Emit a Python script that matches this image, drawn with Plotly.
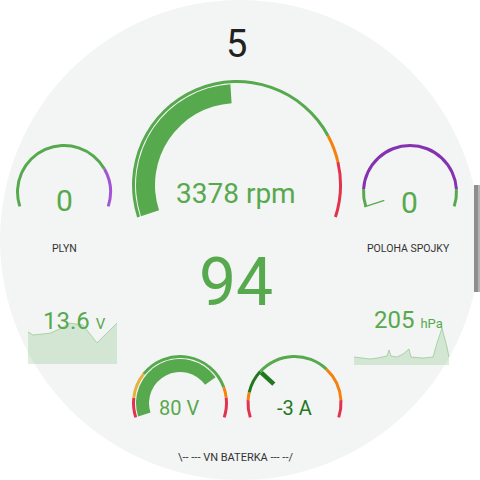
"""
Car dashboard panel: rpm gauge, gear, speed, small gauges and sparklines.
"""

import plotly.graph_objects as go

W = H = 480
SWEEP = 216  # degrees covered by every gauge arc

GREEN = "#57a94e"
DARK_GREEN = "#23781f"
ORANGE = "#f5820f"
RED = "#e2334d"
YELLOW = "#e6b03a"
PURPLE_LIGHT = "#a253d6"
PURPLE = "#8532b2"

# ---- data ----
gear = 5
speed = 94

rpm_value = 3378
rpm_range = [0, 7000]
rpm_limits = [0, 5500, 6000, 7000]
rpm_colors = [GREEN, ORANGE, RED]

throttle_value = 0
throttle_range = [0, 100]
throttle_limits = [0, 78, 100]
throttle_colors = [GREEN, PURPLE_LIGHT]

clutch_value = 0
clutch_range = [0, 100]
clutch_limits = [0, 10, 90, 100]
clutch_colors = [GREEN, PURPLE, GREEN]

hv_volt_value = 80
hv_volt_range = [50, 90]
hv_volt_limits = [50, 54.5, 60.5, 83, 85.5, 90]
hv_volt_colors = [RED, YELLOW, GREEN, ORANGE, RED]

hv_amp_value = -3
hv_amp_range = [-10, 15]
hv_amp_limits = [-10, -7.5, -6.4, -3, 7.5, 12.5, 15]
hv_amp_colors = [RED, ORANGE, DARK_GREEN, GREEN, ORANGE, RED]

lv_hours = [0, 1.35, 5.9, 8.6, 11.3, 14.8, 18.6, 24]
lv_volts = [13.63, 13.56, 13.60, 13.70, 13.83, 13.79, 13.38, 13.83]
lv_now = 13.6

brake_hours = [0, 2.25, 4.0, 5.75, 7.25, 8.25, 8.75, 9.25, 10.75, 12.25,
               13.75, 14.25, 17.25, 19.75, 20.75, 22.0, 23.25, 23.75]
brake_hpa = [198, 197, 196, 197, 198, 199, 205, 199, 198, 201,
             206, 198, 197, 198, 212, 227, 208, 198]
brake_now = 205


def to_deg(v, rng):
    lo, hi = rng
    return -SWEEP / 2 + (v - lo) / (hi - lo) * SWEEP


def arc_trace(start, stop, rng, r_in, r_out, color, subplot):
    a0, a1 = to_deg(start, rng), to_deg(stop, rng)
    return go.Barpolar(
        theta=[(a0 + a1) / 2], width=[a1 - a0], base=[r_in], r=[r_out - r_in],
        marker=dict(color=color, line=dict(width=0)),
        subplot=subplot, hoverinfo="skip", showlegend=False,
    )


def band_traces(limits, colors, rng, r_in, r_out, subplot):
    return [arc_trace(limits[i], limits[i + 1], rng, r_in, r_out, colors[i], subplot)
            for i in range(len(colors))]


def needle_trace(value, rng, r_in, r_out, color, width, subplot):
    a = to_deg(value, rng)
    return go.Scatterpolar(
        theta=[a, a], r=[r_in, r_out], mode="lines",
        line=dict(color=color, width=width),
        subplot=subplot, hoverinfo="skip", showlegend=False,
    )


def polar_box(cx, cy, R):
    return dict(
        domain=dict(x=[(cx - R) / W, (cx + R) / W], y=[1 - (cy + R) / H, 1 - (cy - R) / H]),
        bgcolor="rgba(0,0,0,0)", hole=0, barmode="overlay",
        radialaxis=dict(visible=False, range=[0, R]),
        angularaxis=dict(visible=False, rotation=90, direction="clockwise"),
    )


fig = go.Figure()

# big rpm gauge
fig.add_traces(band_traces(rpm_limits, rpm_colors, rpm_range, 102, 105, "polar"))
fig.add_trace(arc_trace(rpm_range[0], rpm_value, rpm_range, 82, 101, GREEN, "polar"))

# throttle gauge
fig.add_traces(band_traces(throttle_limits, throttle_colors, throttle_range, 45, 48, "polar2"))

# clutch gauge
fig.add_traces(band_traces(clutch_limits, clutch_colors, clutch_range, 45, 48, "polar3"))
fig.add_trace(needle_trace(clutch_value, clutch_range, 27, 48, GREEN, 1.2, "polar3"))

# HV voltage gauge
fig.add_traces(band_traces(hv_volt_limits, hv_volt_colors, hv_volt_range, 45, 48, "polar4"))
fig.add_trace(arc_trace(hv_volt_range[0], hv_volt_value, hv_volt_range, 31, 44, GREEN, "polar4"))

# HV current gauge
fig.add_traces(band_traces(hv_amp_limits, hv_amp_colors, hv_amp_range, 45, 48, "polar5"))
fig.add_trace(needle_trace(hv_amp_value, hv_amp_range, 28, 45, DARK_GREEN, 4.5, "polar5"))

# sparklines
fig.add_trace(go.Scatter(
    x=lv_hours, y=lv_volts, mode="lines", fill="tozeroy",
    line=dict(color="rgba(87,169,78,0.4)", width=1),
    fillcolor="rgba(87,169,78,0.2)", hoverinfo="skip", showlegend=False,
    xaxis="x", yaxis="y",
))
fig.add_trace(go.Scatter(
    x=brake_hours, y=brake_hpa, mode="lines", fill="tozeroy",
    line=dict(color="rgba(87,169,78,0.4)", width=1),
    fillcolor="rgba(87,169,78,0.2)", hoverinfo="skip", showlegend=False,
    xaxis="x2", yaxis="y2",
))


def txt(x, y, text, size, color, **kw):
    return dict(x=x / W, y=1 - y / H, xref="paper", yref="paper", text=text,
                showarrow=False, font=dict(family="Roboto", size=size, color=color),
                xanchor=kw.get("xanchor", "center"), yanchor="middle")


annotations = [
    txt(236, 44, str(gear), 38, "#212121"),
    txt(236, 193, f"{rpm_value} rpm", 28, GREEN),
    txt(236, 282, str(speed), 66, GREEN),
    txt(64, 201, str(throttle_value), 30, GREEN),
    txt(64, 248, "PLYN", 10.5, "#333333"),
    txt(409, 202, str(clutch_value), 30, GREEN),
    txt(408, 248, "POLOHA SPOJKY", 10.5, "#333333"),
    txt(41, 321, f"{lv_now}" + " <span style='font-size:15px'>V</span>", 24, GREEN, xanchor="left"),
    txt(372, 320, f"{brake_now}" + " <span style='font-size:13px'>hPa</span>", 24, GREEN, xanchor="left"),
    txt(179, 408, f"{hv_volt_value} V", 20, GREEN),
    txt(294, 408, f"{hv_amp_value} A", 20, DARK_GREEN),
    txt(235, 457, "\\-- --- VN BATERKA --- --/", 11, "#333333"),
]

hidden = dict(visible=False, fixedrange=True)
fig.update_layout(
    width=W, height=H,
    margin=dict(l=0, r=0, t=0, b=0),
    paper_bgcolor="white", plot_bgcolor="rgba(0,0,0,0)",
    showlegend=False,
    polar=polar_box(237, 185, 108),
    polar2=polar_box(64, 192, 50),
    polar3=polar_box(410, 192, 50),
    polar4=polar_box(180, 403, 50),
    polar5=polar_box(294.5, 403, 50),
    xaxis=dict(domain=[28 / W, 117 / W], range=[0, 24], **hidden),
    yaxis=dict(domain=[1 - 364 / H, 1 - 320 / H], range=[12.9, 13.9], **hidden),
    xaxis2=dict(domain=[354 / W, 450 / W], range=[0, 24], **hidden),
    yaxis2=dict(domain=[1 - 365 / H, 1 - 320 / H], range=[190, 235], **hidden),
    annotations=annotations,
    shapes=[
        dict(type="circle", xref="paper", yref="paper", x0=0, x1=1, y0=0, y1=1,
             fillcolor="#f3f4f4", line=dict(width=0), layer="below"),
        dict(type="rect", xref="paper", yref="paper", x0=474 / W, x1=478 / W,
             y0=1 - 292 / H, y1=1 - 185 / H,
             fillcolor="#8e8e8e", line=dict(width=0), layer="below"),
        dict(type="rect", xref="paper", yref="paper", x0=478 / W, x1=1,
             y0=1 - 292 / H, y1=1 - 185 / H,
             fillcolor="#b4b4b4", line=dict(width=0), layer="below"),
    ],
)

# page body has a default 8px margin; drop it so the 480px figure fills the window
fig.write_html("out.html", config={"displayModeBar": False},
               post_script="document.body.style.margin='0';document.body.style.overflow='hidden';")
